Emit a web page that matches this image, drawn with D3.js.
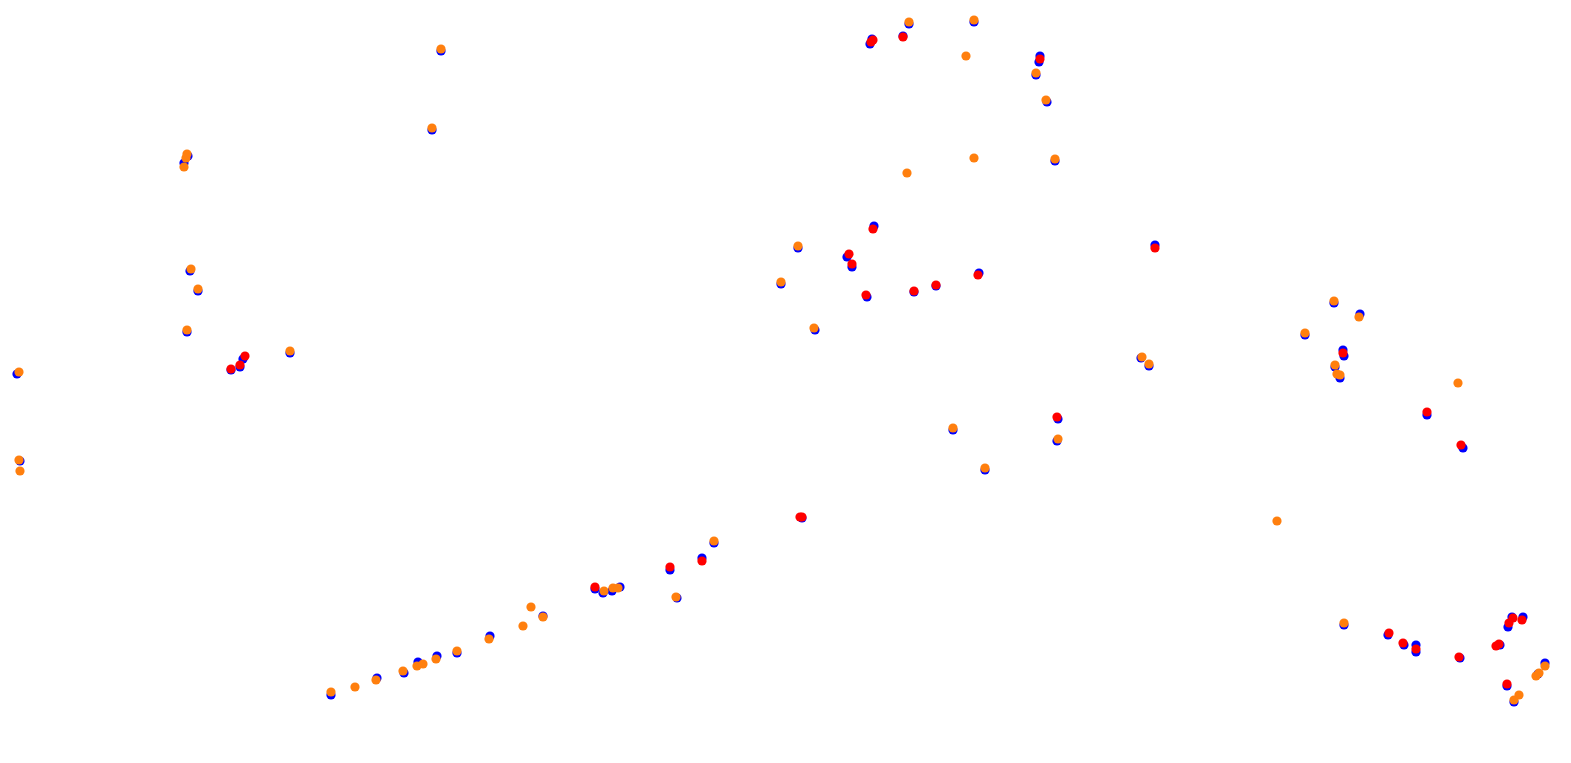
<!DOCTYPE html>
<html>
<head>
<meta charset="utf-8">
<script src="https://cdn.jsdelivr.net/npm/d3@7"></script>
<style>
  body { margin: 0; background: #fff; }
  svg { display: block; }
</style>
</head>
<body>
<div class="chart"></div>
<script>
// point positions (data units = track coordinates)
const blueX = [17, 20, 188, 184, 190, 198, 187, 290, 243, 240, 231, 441, 432, 872, 870, 909, 903, 974, 1040, 1039, 1036, 1047, 1055, 874, 798, 847, 852, 781, 867, 914, 936, 979, 815, 953, 985, 802, 1155, 1141, 1149, 1058, 1057, 1334, 1360, 1305, 1343, 1344, 1335, 1340, 1427, 1463, 1344, 1388, 1404, 1416, 1416, 1460, 1500, 1508, 1512, 1523, 1545, 1538, 1507, 1514, 331, 377, 404, 418, 437, 457, 490, 543, 595, 603, 620, 612, 670, 677, 702, 714]
const blueY = [374, 461, 156, 163, 271, 291, 332, 353, 359, 367, 370, 51, 130, 39, 44, 24, 36, 22, 56, 62, 75, 102, 161, 226, 248, 257, 267, 284, 297, 292, 286, 273, 330, 430, 470, 518, 245, 358, 366, 419, 441, 303, 314, 335, 350, 356, 367, 378, 415, 448, 625, 635, 645, 645, 652, 658, 645, 627, 617, 617, 663, 674, 686, 702, 695, 678, 673, 662, 656, 653, 636, 616, 589, 593, 587, 591, 570, 598, 558, 543]

const redX = [245, 240, 231, 871, 873, 903, 1040, 873, 849, 852, 866, 914, 936, 978, 802, 800, 1155, 1057, 1343, 1427, 1461, 1389, 1403, 1416, 1459, 1496, 1499, 1509, 1513, 1522, 1507, 595, 670, 702]
const redY = [356, 365, 369, 42, 40, 37, 59, 229, 254, 264, 295, 291, 285, 275, 517, 517, 248, 417, 353, 412, 445, 633, 643, 649, 657, 646, 644, 623, 618, 620, 684, 587, 567, 561]

const orangeX = [19, 19, 20, 187, 186, 184, 191, 198, 187, 290, 441, 432, 909, 974, 966, 1036, 1046, 974, 1055, 907, 798, 781, 814, 953, 985, 1142, 1149, 1058, 1334, 1359, 1305, 1335, 1337, 1340, 1458, 1277, 1344, 1545, 1536, 1539, 1519, 1514, 331, 355, 376, 403, 417, 423, 436, 457, 489, 523, 531, 543, 604, 613, 618, 676, 714]
const orangeY = [372, 460, 471, 154, 158, 167, 269, 289, 330, 351, 49, 128, 22, 20, 56, 73, 100, 158, 159, 173, 246, 282, 328, 428, 468, 357, 364, 439, 301, 317, 333, 365, 374, 375, 383, 521, 623, 666, 676, 673, 695, 700, 692, 687, 680, 671, 666, 664, 659, 651, 639, 626, 607, 617, 591, 588, 588, 597, 541]

const width = 1571
const height = 763

const x = d3.scaleLinear().domain([0, 1571]).range([0, width])
const y = d3.scaleLinear().domain([0, 763]).range([0, height])

const svg = d3.select(".chart").append("svg")
  .attr("width", width)
  .attr("height", height)

const series = [
  { xs: blueX, ys: blueY, color: "#0000ff" },
  { xs: redX, ys: redY, color: "#ff0000" },
  { xs: orangeX, ys: orangeY, color: "#ff7f0e" }
]

series.forEach(s => {
  const pts = s.xs.map((v, i) => [v, s.ys[i]])
  svg.append("g")
    .attr("fill", s.color)
  .selectAll("circle")
  .data(pts)
  .join("circle")
    .attr("cx", d => x(d[0]))
    .attr("cy", d => y(d[1]))
    .attr("r", 4.6)
})
</script>
</body>
</html>
